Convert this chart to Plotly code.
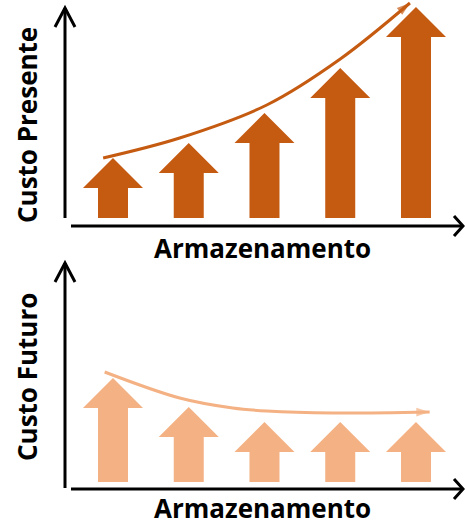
import plotly.graph_objects as go

# ---------------- data ----------------
categories = [1, 2, 3, 4, 5]                      # storage levels
custo_presente = [60, 75, 105, 150, 211]          # present cost (arrow heights)
custo_futuro = [104, 75, 60, 60, 60]              # future cost (arrow heights)

trend_presente_x = [0.87, 1.88, 3.03, 4.0, 4.92]
trend_presente_y = [60, 80, 113, 159, 215]
trend_futuro_x = [0.89, 1.88, 2.58, 3.03, 3.9, 5.18]
trend_futuro_y = [110, 84, 74, 71, 69, 70]

y_label_top = "Custo Presente"
y_label_bottom = "Custo Futuro"
x_label = "Armazenamento"

# ---------------- style ----------------
W, H = 465, 528
DARK = "#C55A11"
LIGHT = "#F4B183"
HEAD_HALF = 0.396   # arrow head half width (x units)
SHAFT_HALF = 0.198  # arrow shaft half width (x units)
HEAD_H = 30         # arrow head height (y units)
XR = [-0.4917, 5.647]
YR = [-46, 218]
FONT = dict(family="Open Sans", size=26, color="black", weight="bold")

fig = go.Figure()


def arrow_trace(c, v, color, xa, ya):
    xs = [c - SHAFT_HALF, c - SHAFT_HALF, c - HEAD_HALF, c, c + HEAD_HALF,
          c + SHAFT_HALF, c + SHAFT_HALF, c - SHAFT_HALF]
    ys = [0, v - HEAD_H, v - HEAD_H, v, v - HEAD_H, v - HEAD_H, 0, 0]
    return go.Scatter(x=xs, y=ys, mode="lines", fill="toself", fillcolor=color,
                      line=dict(width=0, color=color), xaxis=xa, yaxis=ya,
                      hoverinfo="skip", showlegend=False)


for c, v in zip(categories, custo_presente):
    fig.add_trace(arrow_trace(c, v, DARK, "x", "y"))
for c, v in zip(categories, custo_futuro):
    fig.add_trace(arrow_trace(c, v, LIGHT, "x2", "y2"))


def trend(xs, ys, color, xa, ya):
    n = len(xs)
    return go.Scatter(
        x=xs, y=ys, mode="lines+markers", xaxis=xa, yaxis=ya,
        line=dict(color=color, width=3, shape="spline", smoothing=1.0),
        marker=dict(symbol="arrow", angleref="previous",
                    size=[0] * (n - 1) + [14], color=color, line=dict(width=0)),
        hoverinfo="skip", showlegend=False)


fig.add_trace(trend(trend_presente_x, trend_presente_y, DARK, "x", "y"))
fig.add_trace(trend(trend_futuro_x, trend_futuro_y, LIGHT, "x2", "y2"))

# ---------------- axes drawn as arrows (pixel positions -> paper) ----------------
def px(x):
    return x / W


def py(y):
    return 1 - y / H


shapes = []


def line(x0, y0, x1, y1):
    shapes.append(dict(type="line", xref="paper", yref="paper",
                       x0=px(x0), y0=py(y0), x1=px(x1), y1=py(y1),
                       line=dict(color="black", width=3)))


def vhead(tip, a, b):
    shapes.append(dict(type="path", xref="paper", yref="paper",
                       path=f"M {px(a[0])},{py(a[1])} L {px(tip[0])},{py(tip[1])} L {px(b[0])},{py(b[1])}",
                       line=dict(color="black", width=3)))


for (ytop, ybot, yx) in [(8, 218, 226), (263, 488, 489)]:
    line(65, ybot, 65, ytop)
    vhead((65, ytop), (55, ytop + 19), (75, ytop + 19))
    line(71, yx, 462, yx)
    vhead((463, yx), (454, yx - 10), (454, yx + 10))

fig.update_layout(shapes=shapes)

annotations = [
    dict(text=y_label_top, x=px(27), y=py(125), textangle=-90),
    dict(text=x_label, x=px(262), y=py(248)),
    dict(text=y_label_bottom, x=px(27), y=py(377), textangle=-90),
    dict(text=x_label, x=px(262), y=py(508)),
]
for a in annotations:
    a.update(xref="paper", yref="paper", showarrow=False, font=FONT,
             xanchor="center", yanchor="middle")
fig.update_layout(annotations=annotations)

axis_common = dict(visible=False, showgrid=False, zeroline=False, fixedrange=True)
fig.update_layout(
    width=W, height=H, margin=dict(l=0, r=0, t=0, b=0),
    paper_bgcolor="white", plot_bgcolor="white", showlegend=False,
    xaxis=dict(range=XR, domain=[0, 1], anchor="y", **axis_common),
    yaxis=dict(range=YR, domain=[0.5, 1], anchor="x", **axis_common),
    xaxis2=dict(range=XR, domain=[0, 1], anchor="y2", **axis_common),
    yaxis2=dict(range=YR, domain=[0, 0.5], anchor="x2", **axis_common),
)

fig.write_html("out.html")
